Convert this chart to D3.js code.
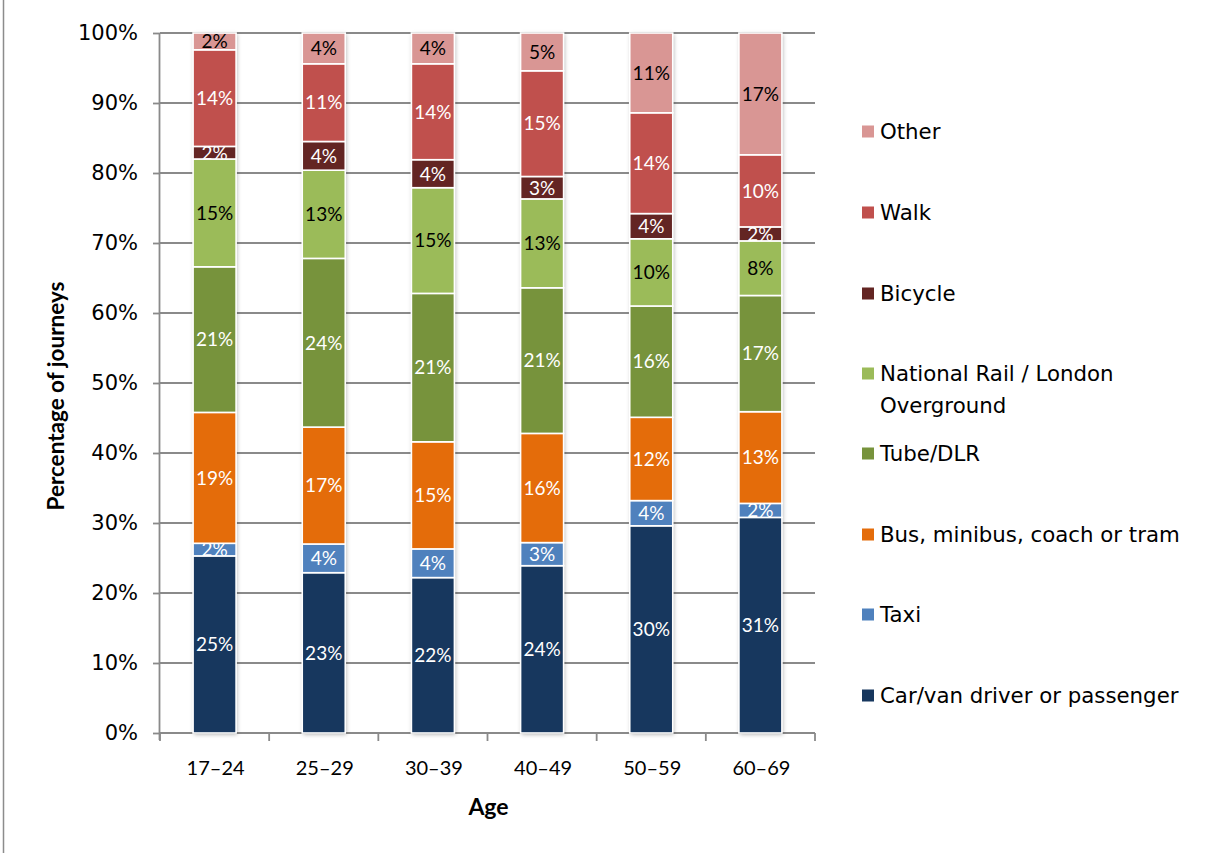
<!DOCTYPE html>
<html>
<head>
<meta charset="utf-8">
<script src="https://cdn.jsdelivr.net/npm/d3@7"></script>
<style>
  html, body { margin: 0; padding: 0; background: #fff; }
  svg { display: block; }
</style>
</head>
<body>
<svg id="chart" width="1205" height="853"></svg>
<script>
// Age groups on the x axis
const ages = ["17–24", "25–29", "30–39", "40–49", "50–59", "60–69"];

// Modes, stacked bottom to top
const modes = [
  "Car/van driver or passenger",
  "Taxi",
  "Bus, minibus, coach or tram",
  "Tube/DLR",
  "National Rail / London Overground",
  "Bicycle",
  "Walk",
  "Other"
];

// Share of journeys (%) for each mode, one value per age group
const carVan   = [25.3, 22.9, 22.2, 23.9, 29.6, 30.8];
const taxi     = [1.8, 4.1, 4.1, 3.3, 3.6, 2.0];
const bus      = [18.7, 16.7, 15.3, 15.6, 11.9, 13.1];
const tube     = [20.8, 24.1, 21.2, 20.8, 15.9, 16.6];
const rail     = [15.4, 12.6, 15.1, 12.7, 9.6, 7.8];
const bicycle  = [1.8, 4.1, 4.0, 3.2, 3.6, 2.0];
const walk     = [13.8, 11.1, 13.7, 15.1, 14.4, 10.3];
const other    = [2.4, 4.4, 4.4, 5.4, 11.4, 17.4];

const yTicks = [0, 0.1, 0.2, 0.3, 0.4, 0.5, 0.6, 0.7, 0.8, 0.9, 1.0];

const colors = ["#17375E", "#4F81BD", "#E46C0A", "#77933C", "#9BBB59", "#632523", "#C0504D", "#D99694"];
const labelColors = ["#fff", "#fff", "#fff", "#fff", "#000", "#fff", "#fff", "#000"];

const seriesValues = [carVan, taxi, bus, tube, rail, bicycle, walk, other];

(function draw() {
  // Build rows for d3.stack
  const rows = ages.map((age, i) => {
    const r = { age };
    modes.forEach((m, k) => { r[m] = seriesValues[k][i] / 100; });
    return r;
  });
  const stacked = d3.stack().keys(modes)(rows);

  const svg = d3.select("#chart");
  const pLeft = 160, pRight = 815, pTop = 33, pBottom = 733;

  const x = d3.scaleBand().domain(ages).range([pLeft, pRight]).paddingInner(0.606).paddingOuter(0.303);
  const y = d3.scaleLinear().domain([0, 1]).range([pBottom, pTop]);

  const calibriLike = "Lato, 'Open Sans', sans-serif";
  const wideFont = "'DejaVu Sans', Verdana, sans-serif";
  const gridColor = "#8a8a8a";

  // chart frame edge
  svg.append("line").attr("x1", 3.5).attr("x2", 3.5).attr("y1", 0).attr("y2", 853)
    .attr("stroke", "#8c8c8c").attr("stroke-width", 1.5);

  // soft shadow under bars
  const defs = svg.append("defs");
  const f = defs.append("filter").attr("id", "shadow")
    .attr("x", "-20%").attr("y", "-5%").attr("width", "140%").attr("height", "110%");
  f.append("feDropShadow").attr("dx", 1).attr("dy", 1.5).attr("stdDeviation", 2)
    .attr("flood-color", "#000").attr("flood-opacity", 0.3);

  // horizontal gridlines
  svg.append("g").selectAll("line").data(yTicks).join("line")
    .attr("x1", pLeft).attr("x2", pRight)
    .attr("y1", d => y(d)).attr("y2", d => y(d))
    .attr("stroke", gridColor).attr("stroke-width", 1.8);

  // y axis
  const yAxis = svg.append("g").attr("transform", `translate(${pLeft},0)`)
    .call(d3.axisLeft(y).tickValues(yTicks).tickFormat(d3.format(".0%")).tickSize(7).tickPadding(15));
  yAxis.select(".domain").attr("stroke", gridColor).attr("stroke-width", 1.8)
    .attr("d", `M-0.5,${pTop}V${pBottom + 7}`);
  yAxis.selectAll(".tick line").attr("stroke", gridColor).attr("stroke-width", 1.8);
  yAxis.selectAll(".tick text").attr("font-family", wideFont).attr("font-size", 21).attr("fill", "#000");

  // x axis: ticks sit on category boundaries
  const xg = svg.append("g").attr("transform", `translate(0,${pBottom})`);
  xg.append("line").attr("x1", pLeft).attr("x2", pRight).attr("y1", 0).attr("y2", 0)
    .attr("stroke", gridColor).attr("stroke-width", 1.8);
  const boundaries = d3.range(ages.length + 1).map(i => pLeft + i * x.step());
  xg.selectAll("line.bt").data(boundaries).join("line").attr("class", "bt")
    .attr("x1", d => d).attr("x2", d => d).attr("y1", 0).attr("y2", 8)
    .attr("stroke", gridColor).attr("stroke-width", 1.8);
  xg.selectAll("text").data(ages).join("text")
    .attr("x", d => x(d) + x.bandwidth() / 2 + 1).attr("y", 42)
    .attr("text-anchor", "middle")
    .attr("font-family", calibriLike).attr("font-size", 20).attr("fill", "#000")
    .text(d => d);

  // bars
  const barG = svg.append("g");

  // white backing with shadow, drawn beneath the stacked segments
  barG.append("g").attr("filter", "url(#shadow)")
    .selectAll("rect").data(rows).join("rect")
    .attr("x", d => x(d.age)).attr("width", x.bandwidth())
    .attr("y", y(1)).attr("height", y(0) - y(1)).attr("fill", "#fff");

  const layers = barG.selectAll("g.layer").data(stacked).join("g").attr("class", "layer");
  layers.each(function (layer, k) {
    const g = d3.select(this);
    layer.forEach((d, i) => {
      const x0 = x(ages[i]), w = x.bandwidth();
      const y0 = y(d[1]), h = y(d[0]) - y(d[1]);
      const clipId = `clip-${k}-${i}`;
      defs.append("clipPath").attr("id", clipId)
        .append("rect").attr("x", x0).attr("y", y0).attr("width", w).attr("height", h);
      g.append("rect")
        .attr("x", x0).attr("y", y0).attr("width", w).attr("height", h)
        .attr("fill", colors[k]).attr("stroke", "#fff").attr("stroke-width", 1.6);
      g.append("text")
        .attr("clip-path", `url(#${clipId})`)
        .attr("x", x0 + w / 2).attr("y", y0 + h / 2)
        .attr("dy", "0.36em")
        .attr("text-anchor", "middle")
        .attr("font-family", calibriLike).attr("font-size", 19)
        .attr("fill", labelColors[k])
        .text(d3.format(".0%")(d[1] - d[0]));
    });
  });

  // axis titles
  svg.append("text")
    .attr("transform", `translate(64,${(pTop + pBottom) / 2 + 13}) rotate(-90)`)
    .attr("text-anchor", "middle")
    .attr("font-family", calibriLike).attr("font-weight", "bold").attr("font-size", 22.5)
    .text("Percentage of journeys");
  svg.append("text")
    .attr("x", (pLeft + pRight) / 2 + 1).attr("y", 815)
    .attr("text-anchor", "middle")
    .attr("font-family", calibriLike).attr("font-weight", "bold").attr("font-size", 23)
    .text("Age");

  // legend, top entry is the top of the stack
  const legendItems = modes.map((m, k) => ({ name: m, color: colors[k] })).reverse();
  const legendY = [131, 212, 293, 373, 453, 534, 614, 695];
  const legendLines = {
    "National Rail / London Overground": ["National Rail / London", "Overground"]
  };
  const lg = svg.append("g");
  legendItems.forEach((d, i) => {
    const cy = legendY[i];
    lg.append("rect").attr("x", 862).attr("y", cy - 5.5).attr("width", 12).attr("height", 12).attr("fill", d.color);
    const lines = legendLines[d.name] || [d.name];
    const t = lg.append("text")
      .attr("font-family", wideFont).attr("font-size", 21.3).attr("fill", "#000");
    lines.forEach((ln, j) => {
      t.append("tspan").attr("x", 880).attr("y", cy + j * 32).attr("dy", "0.36em").text(ln);
    });
  });
})();
</script>
</body>
</html>
